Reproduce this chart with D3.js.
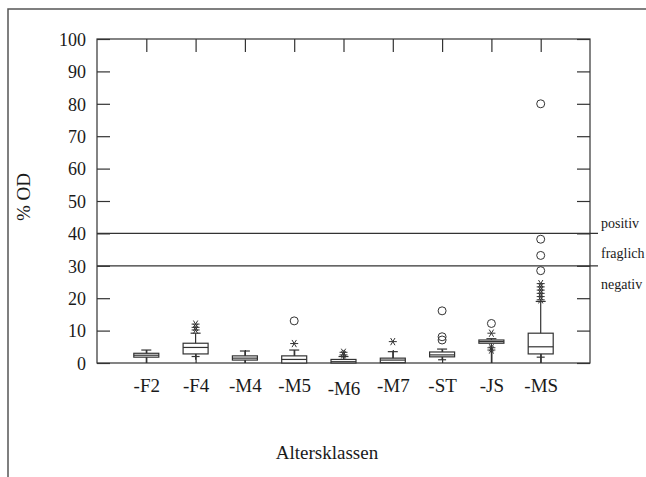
<!DOCTYPE html>
<html lang="de">

<head>
	<meta charset="UTF-8"/>
	<title>% OD nach Altersklassen</title>
	<script src="https://d3js.org/d3.v7.min.js"></script>
	<style>
		body { margin: 0; background: #fff; }
		text { font-family: "Liberation Serif", "DejaVu Serif", serif; fill: #1a1a1a; }
	</style>
</head>

<body>
	<script>
		var w = 646;
		var h = 477;

		// categories and box statistics
		var categories = ["-F2", "-F4", "-M4", "-M5", "-M6", "-M7", "-ST", "-JS", "-MS"];
		var whiskerLow  = [0,   1,   0,   0,   0,   0,   1,   0,   0];
		var q1          = [1.8, 2.8, 0.9, 0,   0,   0.1, 1.9, 6.1, 2.8];
		var median      = [2.4, 4.8, 1.5, 1.1, 0.4, 0.9, 2.5, 6.6, 5.0];
		var q3          = [3.0, 6.1, 2.2, 2.2, 1.1, 1.5, 3.4, 7.1, 9.2];
		var whiskerHigh = [4.0, 9.2, 3.7, 4.0, 2.0, 3.5, 4.3, 7.5, 19];
		// small cross marks on the lower whisker
		var lowCap      = [null, 2, null, null, null, 1, 1, null, 1.8];
		// far values (*) and outside values (o)
		var stars = [
			[],
			[10.2, 11, 12],
			[],
			[6],
			[2.5, 3.3],
			[6.6],
			[],
			[9.2, 4.7, 4],
			[19.5, 20.5, 21.5, 22.5, 23.5, 24.5]
		];
		var circles = [
			[],
			[],
			[],
			[13],
			[],
			[],
			[7.1, 8.1, 16.1],
			[12.2],
			[28.5, 33.2, 38.2, 80]
		];
		var yTicks = [0, 10, 20, 30, 40, 50, 60, 70, 80, 90, 100];
		var cutoffs = [40, 30];
		var zoneLabels = ["positiv", "fraglich", "negativ"];
		var zoneLabelValues = [43.3, 34, 24.2];

		var plotLeft = 97, plotRight = 590, plotTop = 39, plotBottom = 363;
		var ink = "#333";

		var xScale = d3.scalePoint()
			.domain(categories)
			.range([plotLeft, plotRight])
			.padding(1);

		var yScale = d3.scaleLinear()
			.domain([0, 100])
			.range([plotBottom, plotTop]);

		var svg = d3.select("body")
			.append("svg")
			.attr("width", w)
			.attr("height", h);

		// outer frame (top and left edges only)
		svg.append("path")
			.attr("d", "M8," + h + "V9H" + w)
			.attr("fill", "none")
			.attr("stroke", "#555")
			.attr("stroke-width", 1.5);

		// plot box
		svg.append("rect")
			.attr("x", plotLeft)
			.attr("y", plotTop)
			.attr("width", plotRight - plotLeft)
			.attr("height", plotBottom - plotTop)
			.attr("fill", "none")
			.attr("stroke", ink)
			.attr("stroke-width", 1.2);

		// axes with inward ticks
		var yAxis = svg.append("g")
			.attr("transform", "translate(" + plotLeft + ",0)")
			.call(d3.axisLeft(yScale).tickValues(yTicks).tickSize(-13).tickSizeOuter(0).tickPadding(11));
		yAxis.selectAll("text").style("font-size", "18px").attr("dy", "0.35em");

		svg.append("g")
			.attr("transform", "translate(" + plotRight + ",0)")
			.call(d3.axisRight(yScale).tickValues(yTicks).tickSize(-13).tickSizeOuter(0).tickFormat(""));

		svg.append("g")
			.attr("transform", "translate(0," + plotTop + ")")
			.call(d3.axisTop(xScale).tickSize(-13).tickSizeOuter(0).tickFormat(""));

		var xAxis = svg.append("g")
			.attr("transform", "translate(0," + plotBottom + ")")
			.call(d3.axisBottom(xScale).tickSize(-13).tickSizeOuter(0).tickPadding(16));
		xAxis.selectAll("text")
			.style("font-size", "19px")
			.attr("dy", function(d) { return d === "-M6" ? "0.85em" : "0.71em"; });

		svg.selectAll(".domain").attr("stroke", "none");
		svg.selectAll(".tick line").attr("stroke", ink).attr("stroke-width", 1.2);

		// cut-off lines
		svg.selectAll(".cutoff")
			.data(cutoffs)
			.enter()
			.append("line")
			.attr("class", "cutoff")
			.attr("x1", plotLeft)
			.attr("x2", plotRight + 8)
			.attr("y1", function(d) { return yScale(d); })
			.attr("y2", function(d) { return yScale(d); })
			.attr("stroke", ink)
			.attr("stroke-width", 1.2);

		svg.selectAll(".zone")
			.data(zoneLabels)
			.enter()
			.append("text")
			.attr("class", "zone")
			.attr("x", plotRight + 11)
			.attr("y", function(d, i) { return yScale(zoneLabelValues[i]); })
			.attr("dy", "0.35em")
			.style("font-size", "14px")
			.text(function(d) { return d; });

		// boxes
		var boxW = 25;
		var g = svg.selectAll(".box")
			.data(categories)
			.enter()
			.append("g")
			.attr("class", "box")
			.attr("transform", function(d) { return "translate(" + xScale(d) + ",0)"; });

		g.append("line")
			.attr("y1", function(d, i) { return yScale(whiskerLow[i]); })
			.attr("y2", function(d, i) { return yScale(whiskerHigh[i]); })
			.attr("stroke", ink)
			.attr("stroke-width", 1.2);

		// upper whisker cap
		g.append("line")
			.attr("x1", -5).attr("x2", 5)
			.attr("y1", function(d, i) { return yScale(whiskerHigh[i]); })
			.attr("y2", function(d, i) { return yScale(whiskerHigh[i]); })
			.attr("stroke", ink)
			.attr("stroke-width", 1.2);

		g.filter(function(d, i) { return lowCap[i] !== null; })
			.append("line")
			.attr("x1", -4).attr("x2", 4)
			.attr("y1", function(d) { return yScale(lowCap[categories.indexOf(d)]); })
			.attr("y2", function(d) { return yScale(lowCap[categories.indexOf(d)]); })
			.attr("stroke", ink)
			.attr("stroke-width", 1.2);

		g.append("rect")
			.attr("x", -boxW / 2)
			.attr("width", boxW)
			.attr("y", function(d, i) { return yScale(q3[i]); })
			.attr("height", function(d, i) { return Math.max(yScale(q1[i]) - yScale(q3[i]), 1); })
			.attr("fill", "#fff")
			.attr("stroke", ink)
			.attr("stroke-width", 1.2);

		g.append("line")
			.attr("x1", -boxW / 2).attr("x2", boxW / 2)
			.attr("y1", function(d, i) { return yScale(median[i]); })
			.attr("y2", function(d, i) { return yScale(median[i]); })
			.attr("stroke", ink)
			.attr("stroke-width", 1.2);

		// stars
		var starPath = "M-4,0H4M-2.2,-3.6L2.2,3.6M-2.2,3.6L2.2,-3.6";
		g.selectAll(".star")
			.data(function(d, i) { return stars[i]; })
			.enter()
			.append("path")
			.attr("class", "star")
			.attr("d", starPath)
			.attr("transform", function(v) { return "translate(0," + yScale(v) + ")"; })
			.attr("fill", "none")
			.attr("stroke", ink)
			.attr("stroke-width", 1);

		// circles
		g.selectAll(".out")
			.data(function(d, i) { return circles[i]; })
			.enter()
			.append("circle")
			.attr("class", "out")
			.attr("cy", function(v) { return yScale(v); })
			.attr("r", 4)
			.attr("fill", "none")
			.attr("stroke", ink)
			.attr("stroke-width", 1);

		// axis titles
		svg.append("text")
			.attr("transform", "translate(30,197) rotate(-90)")
			.attr("text-anchor", "middle")
			.style("font-size", "19px")
			.text("% OD");

		svg.append("text")
			.attr("x", 327)
			.attr("y", 459)
			.attr("text-anchor", "middle")
			.style("font-size", "19px")
			.text("Altersklassen");
	</script>
</body>
</html>
